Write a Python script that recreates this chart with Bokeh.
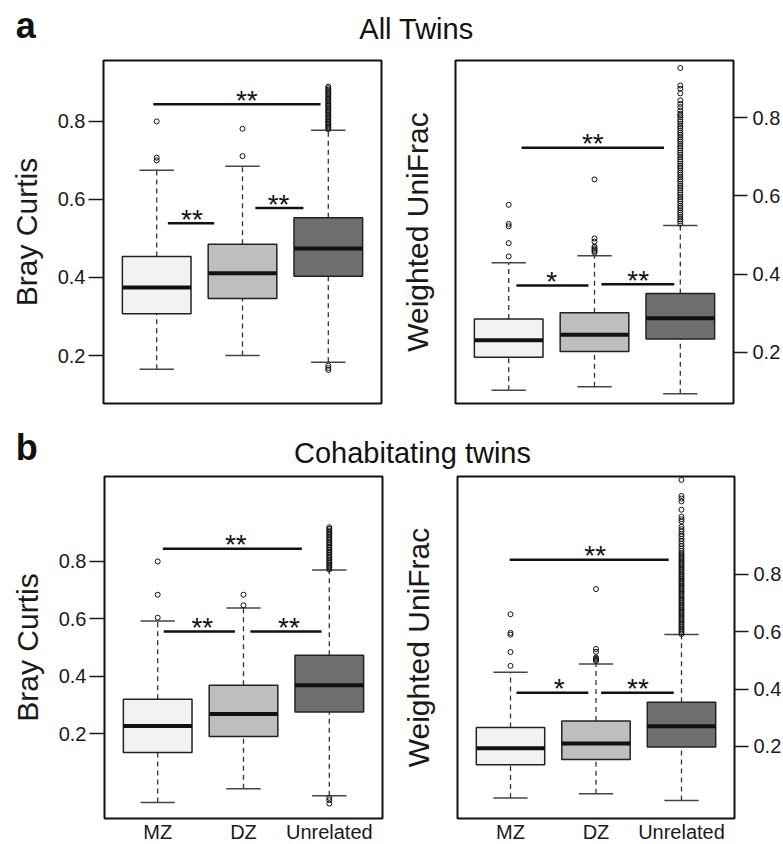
from bokeh.plotting import figure
from bokeh.models import ColumnDataSource, Range1d, FixedTicker, LinearAxis, Label
from bokeh.layouts import column, row
from bokeh.core.properties import value
from bokeh.embed import file_html
from bokeh.resources import INLINE

FONT = "Liberation Sans"
categories = ["MZ", "DZ", "Unrelated"]
box_colors = ["#f2f2f2", "#bebebe", "#6f6f6f"]
y_ticks = [0.2, 0.4, 0.6, 0.8]

# ---------- a: All twins, Bray Curtis ----------
a_bc_lower = [0.165, 0.200, 0.183]
a_bc_q1 = [0.307, 0.346, 0.403]
a_bc_median = [0.374, 0.411, 0.474]
a_bc_q3 = [0.454, 0.485, 0.553]
a_bc_upper = [0.675, 0.685, 0.777]
a_bc_out_mz = [0.700, 0.707, 0.800]
a_bc_out_dz = [0.711, 0.781]
a_bc_out_un = [0.780, 0.784, 0.787, 0.791, 0.795, 0.798, 0.802, 0.806, 0.810, 0.813,
               0.817, 0.821, 0.825, 0.828, 0.832, 0.836, 0.840, 0.843, 0.847, 0.851,
               0.855, 0.858, 0.862, 0.866, 0.870, 0.873, 0.877, 0.881, 0.885, 0.889,
               0.174, 0.168, 0.163]
a_bc_sig_x0 = [0.96, 1.13, 2.15]
a_bc_sig_x1 = [2.91, 1.67, 2.71]
a_bc_sig_y = [0.844, 0.539, 0.578]
a_bc_sig_tx = [2.05, 1.41, 2.42]
a_bc_sig_lab = ["**", "**", "**"]

# ---------- a: All twins, Weighted UniFrac ----------
a_wu_lower = [0.103, 0.112, 0.094]
a_wu_q1 = [0.187, 0.202, 0.234]
a_wu_median = [0.231, 0.245, 0.287]
a_wu_q3 = [0.285, 0.301, 0.350]
a_wu_upper = [0.429, 0.447, 0.524]
a_wu_out_mz = [0.445, 0.479, 0.522, 0.528, 0.577]
a_wu_out_dz = [0.455, 0.459, 0.462, 0.466, 0.470, 0.483, 0.491, 0.642]
a_wu_out_un = [0.927, 0.882, 0.874, 0.862, 0.844, 0.835, 0.827, 0.818, 0.810,
               0.806, 0.801, 0.795, 0.790, 0.784, 0.778, 0.773, 0.767, 0.761, 0.756,
               0.750, 0.744, 0.739, 0.733, 0.727, 0.722, 0.716, 0.710, 0.705, 0.699,
               0.693, 0.688, 0.682, 0.676, 0.671, 0.665, 0.659, 0.654, 0.648, 0.642,
               0.637, 0.631, 0.625, 0.620, 0.614, 0.608, 0.603, 0.597, 0.591, 0.586,
               0.580, 0.574, 0.569, 0.563, 0.557, 0.552, 0.546, 0.540, 0.535, 0.529]
a_wu_sig_x0 = [1.15, 1.09, 2.08]
a_wu_sig_x1 = [2.81, 1.93, 2.93]
a_wu_sig_y = [0.723, 0.371, 0.374]
a_wu_sig_tx = [1.98, 1.50, 2.51]
a_wu_sig_lab = ["**", "*", "**"]

# ---------- b: Cohabitating twins, Bray Curtis ----------
b_bc_lower = [-0.040, 0.008, -0.017]
b_bc_q1 = [0.134, 0.190, 0.275]
b_bc_median = [0.226, 0.268, 0.368]
b_bc_q3 = [0.320, 0.368, 0.473]
b_bc_upper = [0.592, 0.638, 0.770]
b_bc_out_mz = [0.604, 0.684, 0.800]
b_bc_out_dz = [0.647, 0.684]
b_bc_out_un = [0.772, 0.778, 0.783, 0.789, 0.795, 0.800, 0.806, 0.812, 0.817, 0.823,
               0.829, 0.834, 0.840, 0.846, 0.851, 0.857, 0.863, 0.868, 0.874, 0.880,
               0.885, 0.891, 0.897, 0.902, 0.908, 0.914, 0.919,
               -0.024, -0.032, -0.044]
b_bc_sig_x0 = [1.06, 1.07, 2.08]
b_bc_sig_x1 = [2.68, 1.90, 2.91]
b_bc_sig_y = [0.844, 0.556, 0.556]
b_bc_sig_tx = [1.91, 1.52, 2.53]
b_bc_sig_lab = ["**", "**", "**"]

# ---------- b: Cohabitating twins, Weighted UniFrac ----------
b_wu_lower = [0.020, 0.034, 0.011]
b_wu_q1 = [0.136, 0.154, 0.198]
b_wu_median = [0.193, 0.210, 0.270]
b_wu_q3 = [0.266, 0.288, 0.354]
b_wu_upper = [0.459, 0.487, 0.590]
b_wu_out_mz = [0.481, 0.529, 0.590, 0.596, 0.661]
b_wu_out_dz = [0.498, 0.502, 0.506, 0.510, 0.530, 0.540, 0.749]
b_wu_out_un = [1.130, 1.074, 1.065, 1.055, 1.026, 1.002, 0.993, 0.985,
               0.967, 0.958, 0.950, 0.941, 0.933, 0.924, 0.916, 0.907, 0.899, 0.890, 0.882,
               0.874, 0.868, 0.862, 0.856, 0.850, 0.844, 0.838, 0.832, 0.826, 0.820,
               0.814, 0.808, 0.802, 0.796, 0.790, 0.784, 0.778, 0.772, 0.766, 0.760,
               0.754, 0.748, 0.742, 0.736, 0.730, 0.724, 0.718, 0.712, 0.706, 0.700,
               0.694, 0.688, 0.682, 0.676, 0.670, 0.664, 0.658, 0.652, 0.646, 0.640,
               0.634, 0.628, 0.622, 0.616, 0.610, 0.604, 0.598, 0.592]
b_wu_sig_x0 = [0.99, 1.07, 2.06]
b_wu_sig_x1 = [2.85, 1.91, 2.91]
b_wu_sig_y = [0.851, 0.387, 0.387]
b_wu_sig_tx = [1.99, 1.57, 2.49]
b_wu_sig_lab = ["**", "*", "**"]


def style_ticks(ax):
    ax.minor_tick_in = 0
    ax.minor_tick_out = 0
    ax.axis_line_color = None
    ax.major_label_text_font = FONT
    ax.major_label_text_font_size = "20px"
    ax.major_label_text_color = "#1a1a1a"
    ax.axis_label_text_font = FONT
    ax.axis_label_text_font_size = "30px"
    ax.axis_label_text_font_style = "normal"
    ax.axis_label_text_color = "#1a1a1a"


def panel(stats, outl, sig, y_lo, y_hi, ylabel, side, show_x, fw, fh, bl, br, bt, bb, lab_stand):
    p = figure(frame_width=fw, frame_height=fh,
               x_range=Range1d(0.38, 3.62), y_range=Range1d(y_lo, y_hi),
               output_backend="svg", toolbar_location=None, tools="",
               min_border_left=bl, min_border_right=br, min_border_top=bt, min_border_bottom=bb,
               x_axis_location="below" if show_x else None, y_axis_location=side)
    p.grid.visible = False
    p.outline_line_color = "#111111"
    p.outline_line_width = 2
    p.background_fill_color = "white"
    p.border_fill_color = "white"

    xs = [1, 2, 3]
    lower, q1, med, q3, upper = stats
    src = ColumnDataSource(dict(
        x=xs, lower=lower, q1=q1, med=med, q3=q3, upper=upper, color=box_colors,
        l=[x - 0.4 for x in xs], r=[x + 0.4 for x in xs],
        cl=[x - 0.2 for x in xs], cr=[x + 0.2 for x in xs]))
    p.segment("x", "q3", "x", "upper", source=src, line_color="#333333", line_width=1.3, line_dash="5 4")
    p.segment("x", "lower", "x", "q1", source=src, line_color="#333333", line_width=1.3, line_dash="5 4")
    p.segment("cl", "upper", "cr", "upper", source=src, line_color="#444444", line_width=1.5)
    p.segment("cl", "lower", "cr", "lower", source=src, line_color="#444444", line_width=1.5)
    p.quad(left="l", right="r", bottom="q1", top="q3", fill_color="color",
           line_color="#222222", line_width=1.5, source=src)
    p.segment("l", "med", "r", "med", source=src, line_color="#111111", line_width=4)

    ox, oy = [], []
    for i, vals in enumerate(outl):
        ox += [xs[i]] * len(vals)
        oy += vals
    p.scatter(ox, oy, marker="circle", size=5, fill_color=None, line_color="#111111", line_width=1)

    sx0, sx1, sy, stx, slab = sig
    p.segment(sx0, sy, sx1, sy, line_color="#111111", line_width=2.5)
    p.text(stx, sy, text=slab, text_font=value(FONT), text_font_size=value("28px"),
           text_align="center", text_baseline="alphabetic", y_offset=-4, text_color="#111111")

    if side == "left":
        yax = p.left[0]
    else:
        yax = p.right[0]
    yax.ticker = FixedTicker(ticks=y_ticks)
    style_ticks(yax)
    yax.major_tick_in = 0
    yax.major_tick_line_width = 1.3
    yax.major_tick_line_color = "#1a1a1a"
    if side == "left":
        yax.major_tick_out = 15
        yax.major_label_standoff = 3
        yax.axis_label = ylabel
        yax.axis_label_standoff = lab_stand
    else:
        yax.major_tick_out = 14
        yax.major_label_standoff = 5
        lax = LinearAxis(ticker=FixedTicker(ticks=[]), axis_label=ylabel)
        style_ticks(lax)
        lax.major_tick_in = 0
        lax.major_tick_out = 0
        lax.major_label_standoff = 0
        lax.axis_label_standoff = lab_stand
        p.add_layout(lax, "left")

    if show_x:
        xax = p.below[0]
        xax.ticker = FixedTicker(ticks=xs)
        xax.major_label_overrides = {x: c for x, c in zip(xs, categories)}
        style_ticks(xax)
        xax.major_tick_in = 0
        xax.major_tick_out = 0
        xax.major_label_standoff = 2
    return p


def header(h, items):
    p = figure(frame_width=783, frame_height=h, x_range=Range1d(0, 783), y_range=Range1d(0, h),
               min_border=0, x_axis_location=None, y_axis_location=None,
               toolbar_location=None, tools="", output_backend="svg")
    p.outline_line_color = None
    p.grid.visible = False
    for (x, y, t, size, style, align) in items:
        p.add_layout(Label(x=x, y=y, text=t, text_font=FONT, text_font_size=size,
                           text_font_style=style, text_align=align,
                           text_baseline="alphabetic", text_color="#111111"))
    return p


h1 = header(58, [(15.2, 32.6, "a", "36px", "bold", "left"),
                 (416, 29.4, "All Twins", "29px", "normal", "center")])
tl = panel((a_bc_lower, a_bc_q1, a_bc_median, a_bc_q3, a_bc_upper),
           (a_bc_out_mz, a_bc_out_dz, a_bc_out_un),
           (a_bc_sig_x0, a_bc_sig_x1, a_bc_sig_y, a_bc_sig_tx, a_bc_sig_lab),
           0.077, 0.956, "Bray Curtis", "left", False, 278, 343, 103, 9, 2, 13, 12)
tr = panel((a_wu_lower, a_wu_q1, a_wu_median, a_wu_q3, a_wu_upper),
           (a_wu_out_mz, a_wu_out_dz, a_wu_out_un),
           (a_wu_sig_x0, a_wu_sig_x1, a_wu_sig_y, a_wu_sig_tx, a_wu_sig_lab),
           0.069, 0.946, "Weighted UniFrac", "right", False, 278, 343, 65, 50, 2, 13, 22)
h2 = header(58, [(15.2, 27, "b", "36px", "bold", "left"),
                 (412, 21.4, "Cohabitating twins", "29px", "normal", "center")])
bl = panel((b_bc_lower, b_bc_q1, b_bc_median, b_bc_q3, b_bc_upper),
           (b_bc_out_mz, b_bc_out_dz, b_bc_out_un),
           (b_bc_sig_x0, b_bc_sig_x1, b_bc_sig_y, b_bc_sig_tx, b_bc_sig_lab),
           -0.096, 1.096, "Bray Curtis", "left", True, 278, 342, 104, 8, 2, 25, 12)
br = panel((b_wu_lower, b_wu_q1, b_wu_median, b_wu_q3, b_wu_upper),
           (b_wu_out_mz, b_wu_out_dz, b_wu_out_un),
           (b_wu_sig_x0, b_wu_sig_x1, b_wu_sig_y, b_wu_sig_tx, b_wu_sig_lab),
           -0.052, 1.142, "Weighted UniFrac", "right", True, 277, 342, 67, 49, 2, 25, 23)

layout = column(h1, row(tl, tr), h2, row(bl, br))
open("out.html", "w").write(file_html(layout, INLINE))
